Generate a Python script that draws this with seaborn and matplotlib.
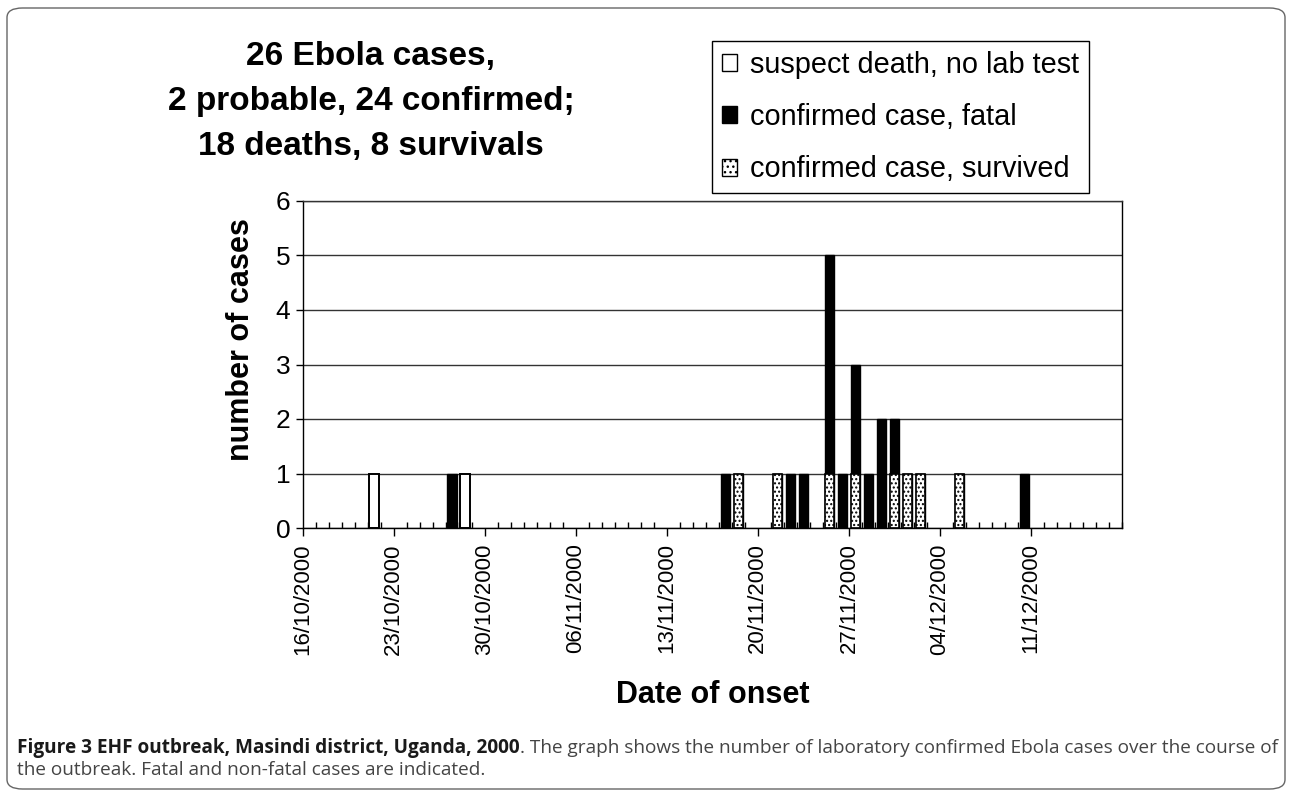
import pandas as pd
import matplotlib.pyplot as plt
import seaborn as sns
import numpy as np
from matplotlib.patches import Patch, FancyBboxPatch

# Data: onset dates and number of cases per day
first_day = "2000-10-16"
last_day = "2000-12-17"

suspect_dates = ["2000-10-21", "2000-10-28"]
suspect_counts = [1, 1]

fatal_dates = ["2000-10-27", "2000-11-17", "2000-11-22", "2000-11-23", "2000-11-25",
               "2000-11-26", "2000-11-27", "2000-11-28", "2000-11-29", "2000-11-30",
               "2000-12-10"]
fatal_counts = [1, 1, 1, 1, 4, 1, 2, 1, 2, 1, 1]

survived_dates = ["2000-11-18", "2000-11-21", "2000-11-25", "2000-11-27",
                  "2000-11-30", "2000-12-01", "2000-12-02", "2000-12-05"]
survived_counts = [1, 1, 1, 1, 1, 1, 1, 1]

legend_labels = ["suspect death, no lab test", "confirmed case, fatal", "confirmed case, survived"]
title_lines = ["26 Ebola cases,", "2 probable, 24 confirmed;", "18 deaths, 8 survivals"]

# Build a daily table
days = pd.date_range(first_day, last_day, freq="D")
df = pd.DataFrame({"date": days})
df["label"] = df["date"].dt.strftime("%d/%m/%Y")
for name, d, c in [("suspect", suspect_dates, suspect_counts),
                   ("fatal", fatal_dates, fatal_counts),
                   ("survived", survived_dates, survived_counts)]:
    df[name] = df["date"].map(dict(zip(pd.to_datetime(d), c))).fillna(0)
df["confirmed"] = df["fatal"] + df["survived"]
order = list(df["label"])

sns.set_style("white")
plt.rcParams["font.family"] = ["Liberation Sans", "DejaVu Sans"]
plt.rcParams["hatch.linewidth"] = 1.0
for k in ["text.color", "axes.labelcolor", "xtick.color", "ytick.color"]:
    plt.rcParams[k] = "black"

fig = plt.figure(figsize=(12.92, 7.92), dpi=100)
W, H = 1292, 792
ax = fig.add_axes([302.7 / W, 1 - 528 / H, (1122 - 302.7) / W, (528 - 201) / H])

bw = 0.74
# confirmed (fatal on top of survived): draw total in black, survived over it
sns.barplot(data=df[df["confirmed"] > 0], x="label", y="confirmed", order=order,
            color="black", saturation=1, width=bw, edgecolor="black", linewidth=1.0, ax=ax)
sns.barplot(data=df[df["survived"] > 0], x="label", y="survived", order=order,
            color="white", saturation=1, width=bw, edgecolor="black", linewidth=1.2,
            hatch="....", ax=ax)
sns.barplot(data=df[df["suspect"] > 0], x="label", y="suspect", order=order,
            color="white", saturation=1, width=bw, edgecolor="black", linewidth=1.4, ax=ax)

# axes
ax.set_xlim(-0.5, len(order) - 0.5)
ax.set_ylim(0, 6)
major = np.arange(-0.5, len(order) - 0.5, 7)
ax.set_xticks(major)
ax.set_xticklabels(order[::7])
ax.set_xticks(np.arange(-0.5, len(order), 1), minor=True)
ax.set_yticks(range(7))
ax.tick_params(axis="x", which="major", direction="out", length=6, width=1, bottom=True,
               labelrotation=90, labelsize=16, pad=5, color="black", labelcolor="black")
ax.tick_params(axis="x", which="minor", direction="in", length=4, width=1, bottom=True,
               color="black")
ax.tick_params(axis="y", which="major", direction="out", length=5, width=1,
               labelsize=19, pad=4, color="black", left=True, labelcolor="black")
ax.set_xlabel("")
ax.set_ylabel("")
ax.grid(axis="y", color="#333333", linewidth=1)
ax.set_axisbelow(True)
for s in ax.spines.values():
    s.set_color("black")
    s.set_linewidth(1)
ax.spines["top"].set_color("#333333")

# titles and labels
for i, line in enumerate(title_lines):
    fig.text(371 / W, 1 - (65 + 45 * i) / H, line, ha="center", va="baseline",
             fontsize=24, fontweight="bold", color="black")
fig.text(241 / W, 1 - 340 / H, "number of cases", rotation=90, ha="center", va="center",
         fontsize=22, fontweight="bold", color="black")
fig.text(713 / W, 1 - 695 / H, "Date of onset", ha="center", va="center",
         fontsize=22, fontweight="bold", color="black")

# legend
handles = [Patch(facecolor="white", edgecolor="black", linewidth=1),
           Patch(facecolor="black", edgecolor="black", linewidth=1),
           Patch(facecolor="white", edgecolor="black", linewidth=1, hatch="...")]
leg = fig.legend(handles, legend_labels, loc="upper left",
                 bbox_to_anchor=(712 / W, 1 - 40.7 / H), bbox_transform=fig.transFigure,
                 frameon=True, fancybox=False, edgecolor="black", framealpha=1,
                 fontsize=20.8, handlelength=0.52, handleheight=0.52, handletextpad=0.45,
                 borderpad=0.35, labelspacing=0.84, borderaxespad=0)
leg.get_frame().set_linewidth(1)
for t in leg.get_texts():
    t.set_color("black")

# caption
cap_font = ["Liberation Sans Narrow", "Open Sans", "DejaVu Sans"]
cap_bold = "Figure 3 EHF outbreak, Masindi district, Uganda, 2000"
cap_rest1 = ". The graph shows the number of laboratory confirmed Ebola cases over the course of"
cap_rest2 = "the outbreak. Fatal and non-fatal cases are indicated."
x0 = 17 / W
t1 = fig.text(x0, 1 - 753 / H, cap_bold, fontsize=13, fontweight="bold", family=cap_font,
              color="#1a1a1a", va="baseline")
t2 = fig.text(x0, 1 - 753 / H, cap_rest1, fontsize=13, family=cap_font, color="#444444",
              va="baseline")
t3 = fig.text(x0, 1 - 775 / H, cap_rest2, fontsize=13, family=cap_font, color="#444444",
              va="baseline")
fig.canvas.draw()
r = fig.canvas.get_renderer()
total = t1.get_window_extent(r).width + t2.get_window_extent(r).width
scale = (1275 - 17) / total
for t in (t1, t2, t3):
    t.set_fontsize(13 * scale)
fig.canvas.draw()
t2.set_x(x0 + t1.get_window_extent(r).width / W)

# rounded frame around the figure
frame = FancyBboxPatch((7 / W, 1 - 789 / H), (1285 - 7) / W, (789 - 8) / H,
                       boxstyle="round,pad=0,rounding_size=0.012", transform=fig.transFigure,
                       facecolor="none", edgecolor="#666666", linewidth=1)
fig.patches.append(frame)

plt.savefig("out.png", dpi=100)
